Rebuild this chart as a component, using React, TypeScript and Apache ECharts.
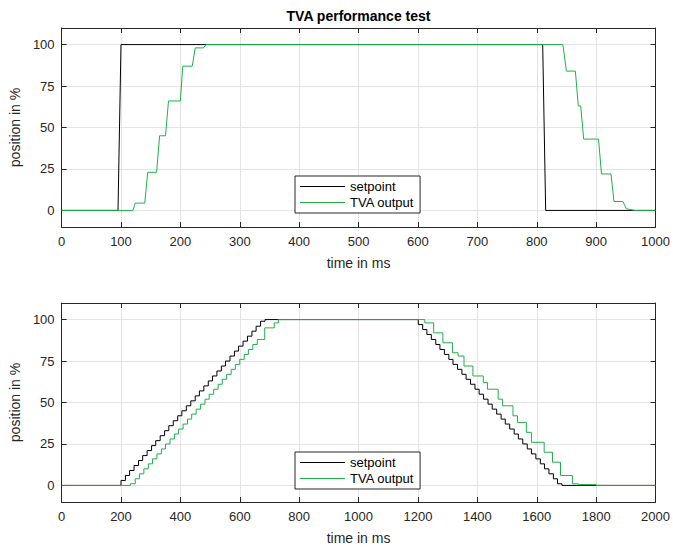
import React, { useEffect, useRef } from "react";
import * as echarts from "echarts";

// ---- Top chart (step response) ----
const topSetpointT = [0, 95, 100, 810, 815, 1000];
const topSetpointV = [0, 0, 100, 100, 0, 0];

const topOutputT = [0, 120, 124, 140, 145, 160, 165, 175, 180, 200, 204, 220, 225, 239, 243, 844, 850, 865, 870, 874, 879, 904, 909, 925, 930, 945, 951, 965, 1000];
const topOutputV = [0, 0, 4.4, 4.4, 23, 23, 45, 45, 66, 66, 87, 87, 98, 98, 100, 100, 84, 84, 63, 63, 43, 43, 22, 22, 5.4, 5.4, 1, 0, 0];

// ---- Bottom chart (ramp response), staircase: value holds from time on ----
const botSetpointT = [0, 200, 215, 229, 244, 259, 273, 288, 303, 317, 332, 347, 361, 376, 391, 405, 420, 435, 450, 464, 479, 494, 508, 523, 538, 552, 567, 582, 596, 611, 626, 641, 655, 670, 685,
  1201, 1216, 1230, 1245, 1260, 1274, 1289, 1304, 1318, 1333, 1348, 1362, 1377, 1392, 1406, 1421, 1436, 1450, 1465, 1480, 1494, 1509, 1524, 1538, 1553, 1568, 1582, 1597, 1612, 1626, 1641, 1656, 1670, 1685, 2000];
const botSetpointV = [0, 3, 6, 9, 12, 15, 18, 21, 24, 27, 30, 33, 36, 39, 42, 45, 48, 51, 54, 57, 60, 63, 66, 69, 72, 75, 78, 81, 84, 87, 90, 93, 96, 99, 100,
  97, 94, 91, 88, 85, 82, 79, 76, 73, 70, 67, 64, 61, 58, 55, 52, 49, 46, 43, 40, 37, 34, 31, 28, 25, 22, 19, 16, 13, 10, 7, 4, 1, 0, 0];

const botOutputT = [0, 232, 248, 262, 277, 292, 306, 321, 336, 350, 365, 380, 394, 409, 424, 438, 453, 468, 483, 497, 512, 527, 541, 556, 571, 585, 600, 615, 629, 644, 659, 684, 716, 730,
  1223, 1253, 1284, 1316, 1335, 1355, 1385, 1420, 1434, 1470, 1485, 1520, 1535, 1565, 1582, 1625, 1653, 1680, 1720, 1740, 1800, 2000];
const botOutputV = [0, 1, 4, 7, 10, 13, 16, 19, 22, 25, 28, 31, 34, 37, 40, 43, 46, 49, 52, 55, 58, 61, 64, 67, 70, 73, 76, 79, 82, 85, 88, 95, 98, 100,
  98, 92, 86, 80, 78, 72, 66, 62, 58, 52, 48, 42, 38, 32, 26, 20, 14, 6, 1, 0.5, 0, 0];

const yTicks = [0, 25, 50, 75, 100];
const legendNames = ["setpoint", "TVA output"];
const titleText = "TVA performance test";
const xName = "time in ms";
const yName = "position in %";

const FONT = "'Liberation Sans', Arial, Helvetica, sans-serif";
const AX = "#262626";
const GRIDC = "#e4e4e4";
const GREEN = "#1fb04a";

function zip(t: number[], v: number[]) {
  return t.map((x, i) => [x, v[i]]);
}

const plain = (v: number) => String(v);

function xAxes(grid: number, max: number, interval: number) {
  return [
    {
      gridIndex: grid, type: "value", min: 0, max, interval, position: "bottom",
      name: xName, nameLocation: "middle", nameGap: 29,
      nameTextStyle: { fontFamily: FONT, fontSize: 14, color: AX },
      axisLine: { show: true, onZero: false, lineStyle: { color: AX, width: 1 } },
      axisTick: { show: true, inside: true, length: 5, lineStyle: { color: AX } },
      axisLabel: { color: AX, fontFamily: FONT, fontSize: 13, margin: 8, formatter: plain },
      splitLine: { show: true, lineStyle: { color: GRIDC, width: 1 } },
    },
    {
      gridIndex: grid, type: "value", min: 0, max, interval, position: "top",
      axisLine: { show: true, onZero: false, lineStyle: { color: AX, width: 1 } },
      axisTick: { show: true, inside: true, length: 5, lineStyle: { color: AX } },
      axisLabel: { show: false },
      splitLine: { show: false },
    },
  ];
}

function yAxes(grid: number) {
  return [
    {
      gridIndex: grid, type: "value", min: -10, max: 110, position: "left",
      name: yName, nameLocation: "middle", nameGap: 27,
      nameTextStyle: { fontFamily: FONT, fontSize: 14, color: AX },
      axisLine: { show: true, onZero: false, lineStyle: { color: AX, width: 1 } },
      axisTick: { show: true, inside: true, length: 5, customValues: yTicks, lineStyle: { color: AX } },
      axisLabel: { color: AX, fontFamily: FONT, fontSize: 13, margin: 7, customValues: yTicks, formatter: plain },
      splitLine: { show: true, lineStyle: { color: GRIDC, width: 1 } },
    },
    {
      gridIndex: grid, type: "value", min: -10, max: 110, position: "right",
      axisLine: { show: true, onZero: false, lineStyle: { color: AX, width: 1 } },
      axisTick: { show: true, inside: true, length: 5, customValues: yTicks, lineStyle: { color: AX } },
      axisLabel: { show: false, customValues: yTicks },
      splitLine: { show: false },
    },
  ];
}

function legendAt(top: number) {
  return {
    left: 295, top, orient: "vertical", data: legendNames,
    icon: "path://M0,0L45,0L45,1L0,1Z",
    backgroundColor: "#fff", borderColor: AX, borderWidth: 1, borderRadius: 0,
    padding: [4, 6, 4, 5], itemWidth: 45, itemHeight: 14, itemGap: 3,
    textStyle: { fontFamily: FONT, fontSize: 13, color: "#000" },
    selectedMode: false,
  };
}

export default function App() {
  const ref = useRef<HTMLDivElement>(null);
  useEffect(() => {
    if (!ref.current) return;
    const chart = echarts.init(ref.current, null, { renderer: "svg" });
    const lineBase = { type: "line", symbol: "none", showSymbol: false, silent: true };
    chart.setOption({
      animation: false,
      backgroundColor: "#fff",
      grid: [
        { left: 61, top: 28, width: 595, height: 199 },
        { left: 61, top: 303, width: 595, height: 199 },
      ],
      xAxis: [...xAxes(0, 1000, 100), ...xAxes(1, 2000, 200)],
      yAxis: [...yAxes(0), ...yAxes(1)],
      legend: [legendAt(176), legendAt(452)],
      graphic: [
        {
          type: "text", x: 358.5, y: 16,
          style: { text: titleText, textAlign: "center", textVerticalAlign: "middle", fontFamily: FONT, fontSize: 14, fontWeight: "bold", fill: "#000" },
        },
      ],
      series: [
        { ...lineBase, name: "setpoint", xAxisIndex: 0, yAxisIndex: 0, data: zip(topSetpointT, topSetpointV), lineStyle: { color: "#000", width: 1 }, itemStyle: { color: "#000" } },
        { ...lineBase, name: "TVA output", xAxisIndex: 0, yAxisIndex: 0, data: zip(topOutputT, topOutputV), lineStyle: { color: GREEN, width: 1 }, itemStyle: { color: GREEN } },
        { ...lineBase, name: "setpoint", xAxisIndex: 2, yAxisIndex: 2, step: "end", data: zip(botSetpointT, botSetpointV), lineStyle: { color: "#000", width: 1 }, itemStyle: { color: "#000" } },
        { ...lineBase, name: "TVA output", xAxisIndex: 2, yAxisIndex: 2, step: "end", data: zip(botOutputT, botOutputV), lineStyle: { color: GREEN, width: 1 }, itemStyle: { color: GREEN } },
      ],
    });
    return () => chart.dispose();
  }, []);
  return <div ref={ref} style={{ position: "fixed", left: 0, top: 0, width: 673, height: 548, background: "#fff" }} />;
}
